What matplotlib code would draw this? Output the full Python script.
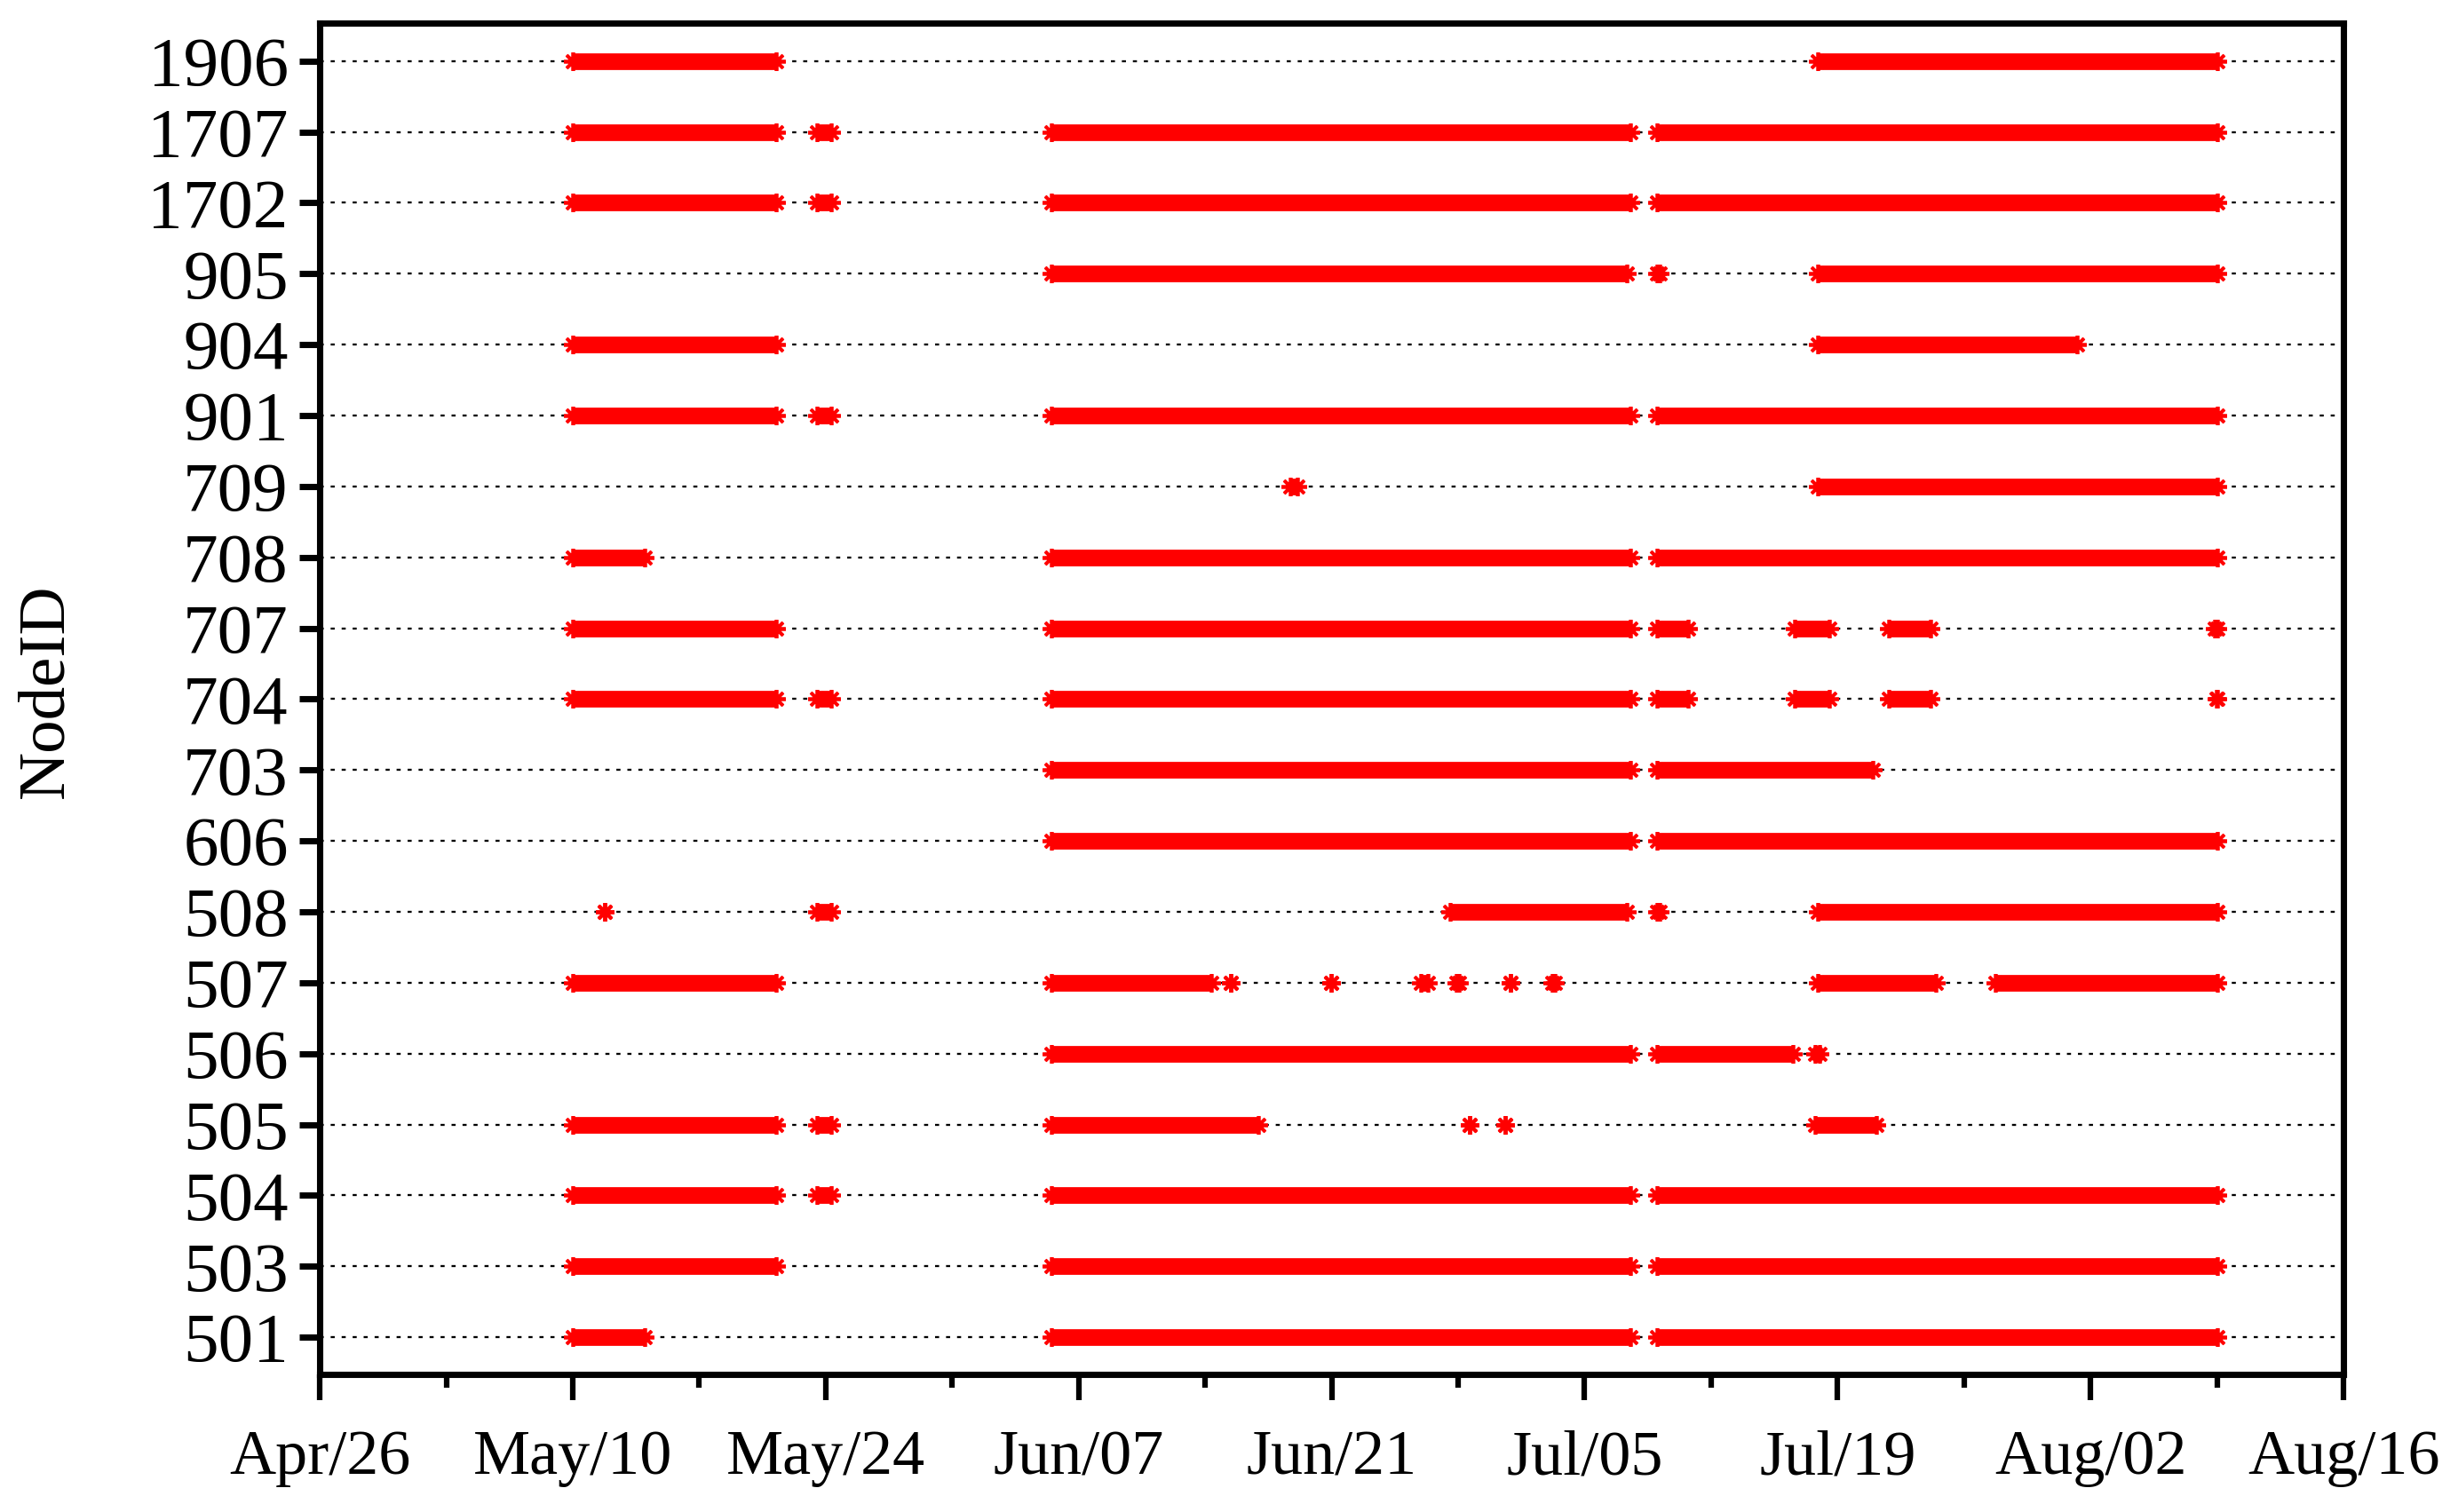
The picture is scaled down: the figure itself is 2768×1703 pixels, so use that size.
import matplotlib
matplotlib.use("Agg")
import matplotlib.pyplot as plt
import matplotlib.dates as mdates
from datetime import datetime, timedelta

YEAR = 2009

# Node IDs, bottom to top
node_ids = ["501", "503", "504", "505", "506", "507", "508", "606", "703", "704",
            "707", "708", "709", "901", "904", "905", "1702", "1707", "1906"]

# Up periods per node: (start, end) as "MM-DD HH"
seg_501 = [("05-10 00", "05-13 23"), ("06-05 12", "07-07 13"), ("07-09 00", "08-09 01")]
seg_503 = [("05-10 00", "05-21 06"), ("06-05 12", "07-07 13"), ("07-09 00", "08-09 01")]
seg_504 = [("05-10 00", "05-21 06"), ("05-23 12", "05-24 07"), ("06-05 12", "07-07 13"),
           ("07-09 00", "08-09 01")]
seg_505 = [("05-10 00", "05-21 06"), ("05-23 12", "05-24 07"), ("06-05 12", "06-16 23"),
           ("06-28 15", "06-28 15"), ("06-30 14", "06-30 14"), ("07-17 18", "07-21 04")]
seg_506 = [("06-05 12", "07-07 13"), ("07-09 00", "07-16 13"), ("07-17 18", "07-18 00")]
seg_507 = [("05-10 00", "05-21 06"), ("06-05 12", "06-14 08"), ("06-15 10", "06-15 10"),
           ("06-20 23", "06-20 23"), ("06-25 22", "06-26 08"), ("06-27 22", "06-28 01"),
           ("06-30 22", "06-30 22"), ("07-03 05", "07-03 09"), ("07-17 22", "07-24 11"),
           ("07-27 18", "08-09 01")]
seg_508 = [("05-11 19", "05-11 19"), ("05-23 12", "05-24 07"), ("06-27 13", "07-07 08"),
           ("07-09 00", "07-09 04"), ("07-17 22", "08-09 01")]
seg_606 = [("06-05 12", "07-07 13"), ("07-09 00", "08-09 01")]
seg_703 = [("06-05 12", "07-07 13"), ("07-09 00", "07-20 23")]
seg_704 = [("05-10 00", "05-21 06"), ("05-23 12", "05-24 07"), ("06-05 12", "07-07 13"),
           ("07-09 00", "07-10 18"), ("07-16 15", "07-18 13"), ("07-21 20", "07-24 04"),
           ("08-08 23", "08-09 01")]
seg_707 = [("05-10 00", "05-21 06"), ("06-05 12", "07-07 13"), ("07-09 00", "07-10 18"),
           ("07-16 15", "07-18 13"), ("07-21 20", "07-24 04"), ("08-08 21", "08-09 01")]
seg_708 = [("05-10 00", "05-13 23"), ("06-05 12", "07-07 13"), ("07-09 00", "08-09 01")]
seg_709 = [("06-18 17", "06-19 03"), ("07-17 22", "08-09 01")]
seg_901 = [("05-10 00", "05-21 06"), ("05-23 12", "05-24 07"), ("06-05 12", "07-07 13"),
           ("07-09 00", "08-09 01")]
seg_904 = [("05-10 00", "05-21 06"), ("07-17 22", "08-01 06")]
seg_905 = [("06-05 12", "07-07 08"), ("07-09 00", "07-09 04"), ("07-17 22", "08-09 01")]
seg_1702 = [("05-10 00", "05-21 06"), ("05-23 12", "05-24 07"), ("06-05 12", "07-07 13"),
            ("07-09 00", "08-09 01")]
seg_1707 = [("05-10 00", "05-21 06"), ("05-23 12", "05-24 07"), ("06-05 12", "07-07 13"),
            ("07-09 00", "08-09 01")]
seg_1906 = [("05-10 00", "05-21 06"), ("07-17 22", "08-09 01")]

segments = [seg_501, seg_503, seg_504, seg_505, seg_506, seg_507, seg_508, seg_606, seg_703,
            seg_704, seg_707, seg_708, seg_709, seg_901, seg_904, seg_905, seg_1702,
            seg_1707, seg_1906]

x_start = "04-26 00"
x_end = "08-16 00"


def to_dt(s):
    return datetime.strptime(f"{YEAR}-{s}", "%Y-%m-%d %H")


plt.rcParams["font.family"] = ["Liberation Serif", "DejaVu Serif"]
plt.rcParams["font.size"] = 18

fig = plt.figure(figsize=(2768 / 300, 1703 / 300), dpi=300)
ax = fig.add_axes([0.1301, 0.0912, 0.9534 - 0.1301, 0.9845 - 0.0912])

red = "#ff0000"
band_lw = 4.5
ms = 5.0
for i, segs in enumerate(segments):
    for s, e in segs:
        ds, de = to_dt(s), to_dt(e)
        if de > ds:
            ax.plot([ds, de], [i, i], color=red, lw=band_lw, solid_capstyle="butt", zorder=3)
        ax.plot([ds, de], [i, i], linestyle="none", marker=(8, 2, 0), markersize=ms,
                markeredgewidth=0.9, color=red, zorder=3)

# dotted horizontal grid
for i in range(len(node_ids)):
    ax.axhline(i, color="black", lw=0.55, dashes=(2.0, 3.4), zorder=1)

x0, x1 = to_dt(x_start), to_dt(x_end)
ax.set_xlim(x0, x1)
ax.set_ylim(-0.52, len(node_ids) - 1 + 0.53)

major = [x0 + timedelta(days=14 * k) for k in range(9)]
minor = [x0 + timedelta(days=7 + 14 * k) for k in range(8)]
ax.set_xticks(major)
ax.set_xticks(minor, minor=True)
ax.xaxis.set_major_formatter(mdates.DateFormatter("%b/%d"))
ax.set_yticks(range(len(node_ids)))
ax.set_yticklabels(node_ids)

for sp in ax.spines.values():
    sp.set_linewidth(1.7)
ax.tick_params(axis="x", which="major", direction="out", length=7, width=1.5, pad=8,
               labelsize=17.3)
ax.tick_params(axis="x", which="minor", direction="out", length=3.5, width=1.5)
ax.tick_params(axis="y", which="major", direction="out", length=5.5, width=1.7, pad=3,
               labelsize=19)
ax.tick_params(axis="y", which="minor", left=False)

fig.text(0.019, 0.543, "NodeID", rotation=90, ha="center", va="center", fontsize=18)

fig.savefig("out.png", dpi=300, facecolor="white")
